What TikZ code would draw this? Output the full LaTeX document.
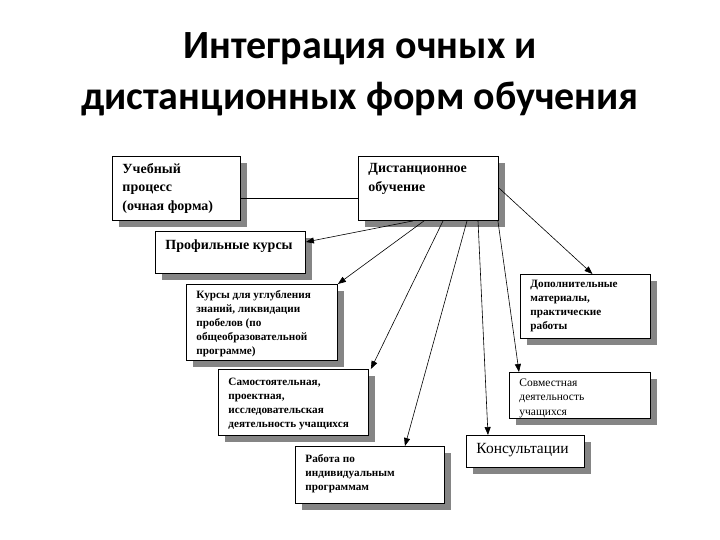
\documentclass[tikz,border=0pt]{standalone}
\usepackage{fontspec}
\setmainfont{Liberation Serif}
\newfontfamily\titlefont{Carlito}
\usetikzlibrary{shadows,arrows.meta}

% text block with fixed size, text set from the top left
\newcommand{\boxtext}[4]{\parbox[c][#2][t]{#1}{\raggedright\leftskip=10pt\vspace*{#3}#4}}

\begin{document}
\begin{tikzpicture}[x=1pt, y=-1pt,
    blk/.style={rectangle, draw=black, line width=0.9pt, fill=white,
                anchor=north west, inner sep=0pt,
                drop shadow={shadow xshift=7pt, shadow yshift=-7pt,
                             fill=black!48, opacity=1}},
    big/.style={font=\bfseries\fontsize{14}{18.5}\selectfont},
    small/.style={font=\bfseries\fontsize{11.2}{14}\selectfont},
    arr/.style={-{Triangle[length=8pt,width=6pt]}, line width=0.6pt},
    link/.style={line width=0.7pt}
  ]
    \useasboundingbox (0,0) rectangle (720,540);
    \node[font=\titlefont\bfseries\fontsize{40}{51}\selectfont, align=center]
      (title) at (360,74) {Интеграция очных и\\дистанционных форм обучения};

    \node[blk, big] (ucheb) at (112,156) {\boxtext{128pt}{64pt}{7pt}{Учебный\\процесс\\(очная форма)}};
    \node[blk, big] (dist)  at (358,156) {\boxtext{140pt}{64pt}{7pt}{Дистанционное\\обучение}};
    \node[blk, font=\bfseries\fontsize{14}{17}\selectfont]
                    (prof)  at (155,231) {\boxtext{150pt}{42pt}{8pt}{Профильные курсы}};
    \node[blk, small] (kursy) at (186,284) {\boxtext{151pt}{76pt}{6pt}{Курсы для углубления\\знаний, ликвидации\\пробелов (по\\общеобразовательной\\программе)}};
    \node[blk, small] (dop)   at (520,274) {\boxtext{130pt}{64pt}{6pt}{Дополнительные\\материалы,\\практические\\работы}};
    \node[blk, small] (samo)  at (218,369) {\boxtext{150pt}{66pt}{9pt}{Самостоятельная,\\проектная,\\исследовательская\\деятельность учащихся}};
    \node[blk, font=\fontsize{11.5}{14.5}\selectfont]
                      (sovm)  at (509,372) {\boxtext{141pt}{46pt}{6pt}{Совместная\\деятельность\\учащихся}};
    \node[blk, font=\fontsize{15.5}{18}\selectfont]
                      (kons)  at (466,435) {\boxtext{118pt}{32pt}{8pt}{Консультации}};
    \node[blk, small] (rab)   at (295,446) {\boxtext{149pt}{57pt}{8pt}{Работа по\\индивидуальным\\программам}};

    \draw[link] (ucheb.east |- 0,198) -- (dist.west |- 0,198);
    \draw[arr] ([xshift=55pt]dist.south west) -- ([yshift=-11pt]prof.north east);
    \draw[arr] ([xshift=66pt]dist.south west) -- (kursy.north east);
    \draw[arr] ([xshift=85pt]dist.south west) -- ([xshift=2pt]samo.north east);
    \draw[arr] ([xshift=109pt]dist.south west) -- ([xshift=35pt]rab.north);
    \draw[arr] ([xshift=120pt]dist.south west) -- ([xshift=22pt]kons.north west);
    \draw[arr] ([xshift=-1pt]dist.south east) -- ([xshift=10pt]sovm.north west);
    \draw[arr] ([yshift=-32pt]dist.north east) -- ([xshift=7pt]dop.north);
  \end{tikzpicture}
\end{document}
